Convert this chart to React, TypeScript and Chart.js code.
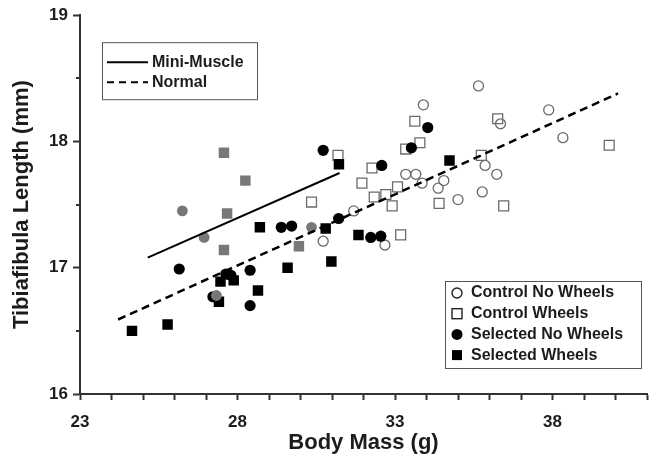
import { useEffect, useRef } from 'react';
import { Chart, registerables } from 'chart.js';

Chart.register(...registerables);

const FONT = '"Liberation Sans", Arial, Helvetica, sans-serif';
const TEXT = '#1c1c1c';
const AXIS = '#333333';

// Body mass (g) and tibiafibula length (mm), one pair of arrays per group
const controlNoWheelsMass = [31.69, 30.72, 32.68, 33.34, 33.66, 33.86, 34.55, 34.37, 35.0, 35.77, 33.9, 35.65, 36.35, 35.86, 36.23, 37.88, 38.33];
const controlNoWheelsLen = [17.45, 17.21, 17.18, 17.74, 17.74, 17.67, 17.69, 17.63, 17.54, 17.6, 18.29, 18.44, 18.14, 17.81, 17.74, 18.25, 18.03];

const controlWheelsMass = [30.35, 31.19, 32.27, 31.95, 32.34, 32.71, 33.08, 32.91, 33.18, 33.34, 33.79, 33.63, 34.4, 35.74, 36.26, 36.45, 39.8];
const controlWheelsLen = [17.52, 17.89, 17.79, 17.67, 17.56, 17.58, 17.64, 17.49, 17.26, 17.94, 17.99, 18.16, 17.51, 17.89, 18.18, 17.49, 17.97];

const selectedNoWheelsMass = [26.15, 27.22, 27.63, 27.79, 28.4, 28.4, 29.39, 29.72, 30.72, 31.21, 32.23, 32.55, 32.58, 33.52, 34.04];
const selectedNoWheelsLen = [16.99, 16.77, 16.95, 16.94, 16.98, 16.7, 17.32, 17.33, 17.93, 17.39, 17.24, 17.25, 17.81, 17.95, 18.11];

const selectedWheelsMass = [24.65, 25.78, 27.41, 27.46, 27.88, 28.65, 28.71, 29.59, 30.8, 30.98, 31.22, 31.84, 34.73];
const selectedWheelsLen = [16.5, 16.55, 16.73, 16.89, 16.9, 16.82, 17.32, 17.0, 17.31, 17.05, 17.82, 17.26, 17.85];

// Mini-muscle individuals (grey symbols)
const miniNoWheelsMass = [26.25, 26.94, 27.33, 30.35];
const miniNoWheelsLen = [17.45, 17.24, 16.78, 17.32];

const miniWheelsMass = [27.57, 28.25, 27.67, 27.57, 29.95];
const miniWheelsLen = [17.91, 17.69, 17.43, 17.14, 17.17];

// Fitted lines (end points)
const miniLineMass = [25.15, 31.24];
const miniLineLen = [17.08, 17.75];
const normalLineMass = [24.21, 40.08];
const normalLineLen = [16.59, 18.38];

const xTickLabels = [23, 28, 33, 38];
const yTickLabels = [16, 17, 18, 19];

const pts = (xs: number[], ys: number[]) => xs.map((x, i) => ({ x, y: ys[i] }));

type Entry = { label: string; kind: 'solid' | 'dashed' | 'openCircle' | 'openSquare' | 'dot' | 'square' };

const lineEntries: Entry[] = [
  { label: 'Mini-Muscle', kind: 'solid' },
  { label: 'Normal', kind: 'dashed' },
];
const groupEntries: Entry[] = [
  { label: 'Control No Wheels', kind: 'openCircle' },
  { label: 'Control Wheels', kind: 'openSquare' },
  { label: 'Selected No Wheels', kind: 'dot' },
  { label: 'Selected Wheels', kind: 'square' },
];

function drawSymbol(ctx: CanvasRenderingContext2D, kind: Entry['kind'], x: number, y: number) {
  ctx.save();
  if (kind === 'solid' || kind === 'dashed') {
    ctx.strokeStyle = '#000';
    ctx.lineWidth = 2;
    ctx.setLineDash(kind === 'dashed' ? [7, 5] : []);
    ctx.beginPath();
    ctx.moveTo(x, y);
    ctx.lineTo(x + 41, y);
    ctx.stroke();
  } else if (kind === 'openCircle') {
    ctx.strokeStyle = '#222';
    ctx.lineWidth = 1.4;
    ctx.beginPath();
    ctx.arc(x, y, 5, 0, Math.PI * 2);
    ctx.stroke();
  } else if (kind === 'openSquare') {
    ctx.strokeStyle = '#222';
    ctx.lineWidth = 1.4;
    ctx.strokeRect(x - 5, y - 5, 10, 10);
  } else if (kind === 'dot') {
    ctx.fillStyle = '#000';
    ctx.beginPath();
    ctx.arc(x, y, 5.5, 0, Math.PI * 2);
    ctx.fill();
  } else {
    ctx.fillStyle = '#000';
    ctx.fillRect(x - 5, y - 5, 10, 10);
  }
  ctx.restore();
}

const boxLegends = {
  id: 'boxLegends',
  afterDraw(chart: any) {
    const { ctx, chartArea: a } = chart;
    ctx.save();
    ctx.font = `bold 16px ${FONT}`;
    ctx.textBaseline = 'middle';
    ctx.textAlign = 'left';

    // Fitted-line key, upper left
    const b1 = { x: a.left + 22, y: a.top + 27, w: 155, h: 57 };
    ctx.fillStyle = '#fff';
    ctx.fillRect(b1.x, b1.y, b1.w, b1.h);
    ctx.strokeStyle = '#555';
    ctx.lineWidth = 1;
    ctx.strokeRect(b1.x + 0.5, b1.y + 0.5, b1.w, b1.h);
    lineEntries.forEach((e, i) => {
      const yy = b1.y + 20 + i * 20;
      drawSymbol(ctx, e.kind, b1.x + 5, yy);
      ctx.fillStyle = TEXT;
      ctx.fillText(e.label, b1.x + 50, yy);
    });

    // Group key, lower right
    const b2 = { x: a.right - 202, y: a.bottom - 113, w: 196, h: 87 };
    ctx.fillStyle = '#fff';
    ctx.fillRect(b2.x, b2.y, b2.w, b2.h);
    ctx.strokeStyle = '#555';
    ctx.lineWidth = 1;
    ctx.strokeRect(b2.x + 0.5, b2.y + 0.5, b2.w, b2.h);
    groupEntries.forEach((e, i) => {
      const yy = b2.y + 12 + i * 20.7;
      drawSymbol(ctx, e.kind, b2.x + 12, yy);
      ctx.fillStyle = TEXT;
      ctx.fillText(e.label, b2.x + 26, yy);
    });

    // Short minor ticks on the length axis
    const ys = chart.scales.y;
    ctx.strokeStyle = AXIS;
    ctx.lineWidth = 2;
    [16.5, 17.5, 18.5].forEach((v) => {
      const py = Math.round(ys.getPixelForValue(v));
      ctx.beginPath();
      ctx.moveTo(a.left - 4, py);
      ctx.lineTo(a.left, py);
      ctx.stroke();
    });
    ctx.restore();
  },
};

export default function App() {
  const ref = useRef<HTMLCanvasElement | null>(null);

  useEffect(() => {
    if (!ref.current) return;
    const open = 'rgba(0,0,0,0)';
    const chart = new Chart(ref.current, {
      type: 'scatter',
      data: {
        datasets: [
          {
            label: 'Mini-Muscle',
            data: pts(miniLineMass, miniLineLen),
            showLine: true,
            borderColor: '#000',
            borderWidth: 2,
            pointRadius: 0,
            order: 0,
          },
          {
            label: 'Normal',
            data: pts(normalLineMass, normalLineLen),
            showLine: true,
            borderColor: '#000',
            borderWidth: 2.5,
            borderDash: [8, 5],
            pointRadius: 0,
            order: 0,
          },
          {
            label: 'Mini-Muscle No Wheels',
            data: pts(miniNoWheelsMass, miniNoWheelsLen),
            pointStyle: 'circle',
            pointRadius: 5.4,
            backgroundColor: '#777',
            borderColor: '#777',
            borderWidth: 0,
            order: 1,
          },
          {
            label: 'Mini-Muscle Wheels',
            data: pts(miniWheelsMass, miniWheelsLen),
            pointStyle: 'rect',
            pointRadius: 7.4,
            backgroundColor: '#787878',
            borderColor: '#787878',
            borderWidth: 0,
            order: 1,
          },
          {
            label: 'Selected No Wheels',
            data: pts(selectedNoWheelsMass, selectedNoWheelsLen),
            pointStyle: 'circle',
            pointRadius: 5.6,
            backgroundColor: '#000',
            borderColor: '#000',
            borderWidth: 0,
            order: 2,
          },
          {
            label: 'Selected Wheels',
            data: pts(selectedWheelsMass, selectedWheelsLen),
            pointStyle: 'rect',
            pointRadius: 7.4,
            backgroundColor: '#000',
            borderColor: '#000',
            borderWidth: 0,
            order: 3,
          },
          {
            label: 'Control No Wheels',
            data: pts(controlNoWheelsMass, controlNoWheelsLen),
            pointStyle: 'circle',
            pointRadius: 5,
            backgroundColor: open,
            borderColor: '#6a6a6a',
            borderWidth: 1.3,
            order: 4,
          },
          {
            label: 'Control Wheels',
            data: pts(controlWheelsMass, controlWheelsLen),
            pointStyle: 'rect',
            pointRadius: 7,
            backgroundColor: open,
            borderColor: '#6a6a6a',
            borderWidth: 1.3,
            order: 5,
          },
        ],
      },
      options: {
        responsive: false,
        animation: false,
        devicePixelRatio: 1,
        events: [],
        layout: { padding: { top: 15, right: 6, left: 0, bottom: 0 } },
        plugins: {
          legend: { display: false },
          tooltip: { enabled: false },
        },
        scales: {
          x: {
            type: 'linear',
            min: 23,
            max: 41,
            afterFit: (s: any) => {
              s.height = 71;
            },
            border: { display: true, color: AXIS, width: 2 },
            grid: {
              drawOnChartArea: false,
              drawTicks: true,
              tickLength: 6,
              tickColor: AXIS,
              tickWidth: 2,
            },
            ticks: {
              stepSize: 1,
              autoSkip: false,
              maxRotation: 0,
              padding: 12,
              color: TEXT,
              font: { family: FONT, size: 17, weight: 'bold' },
              callback: (v: any) => (xTickLabels.includes(Number(v)) ? String(v) : ''),
            },
            title: {
              display: true,
              text: 'Body Mass (g)',
              color: TEXT,
              font: { family: FONT, size: 22, weight: 'bold' },
              padding: { top: 0, bottom: 9 },
            },
          },
          y: {
            type: 'linear',
            min: 16,
            max: 19,
            afterFit: (s: any) => {
              s.width = 80;
            },
            border: { display: true, color: AXIS, width: 2 },
            grid: {
              drawOnChartArea: false,
              drawTicks: true,
              tickLength: 7,
              tickWidth: 2,
              tickColor: (c: any) => (c.tick && Number.isInteger(c.tick.value) ? AXIS : 'rgba(0,0,0,0)'),
            },
            ticks: {
              stepSize: 0.5,
              autoSkip: false,
              padding: 5,
              color: TEXT,
              font: { family: FONT, size: 17, weight: 'bold' },
              callback: (v: any) => (yTickLabels.includes(Number(v)) ? String(v) : ''),
            },
            title: {
              display: true,
              text: 'Tibiafibula Length (mm)',
              color: TEXT,
              font: { family: FONT, size: 22, weight: 'bold' },
              padding: { top: 9, bottom: 0 },
            },
          },
        },
      } as any,
      plugins: [boxLegends],
    });
    return () => chart.destroy();
  }, []);

  return (
    <div style={{ position: 'fixed', left: 0, top: 0, width: 659, height: 465, background: '#fff' }}>
      <canvas ref={ref} width={659} height={465} style={{ display: 'block', width: 659, height: 465 }} />
    </div>
  );
}
